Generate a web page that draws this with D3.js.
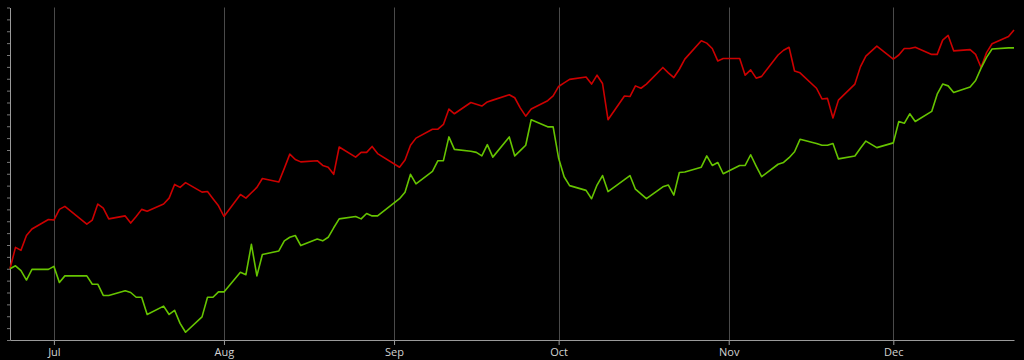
<!DOCTYPE html>
<html>
<head>
<meta charset="utf-8">
<script src="https://cdn.jsdelivr.net/npm/d3@7"></script>
<style>
    html, body { margin: 0; padding: 0; background: #000; }
    svg { display: block; }
    .axis text { fill: #d2d2d2; font-family: 'Open Sans', sans-serif; font-size: 11px; }
</style>
</head>
<body>
<svg class="chart"></svg>
<script>
// trading days, Jun 23 - Dec 23 2014
var tradeDates = [
    '2014-06-23', '2014-06-24', '2014-06-25', '2014-06-26', '2014-06-27', '2014-06-30',
    '2014-07-01', '2014-07-02', '2014-07-03', '2014-07-07', '2014-07-08', '2014-07-09', '2014-07-10', '2014-07-11',
    '2014-07-14', '2014-07-15', '2014-07-16', '2014-07-17', '2014-07-18', '2014-07-21', '2014-07-22', '2014-07-23',
    '2014-07-24', '2014-07-25', '2014-07-28', '2014-07-29', '2014-07-30', '2014-07-31',
    '2014-08-01', '2014-08-04', '2014-08-05', '2014-08-06', '2014-08-07', '2014-08-08', '2014-08-11', '2014-08-12',
    '2014-08-13', '2014-08-14', '2014-08-15', '2014-08-18', '2014-08-19', '2014-08-20', '2014-08-21', '2014-08-22',
    '2014-08-25', '2014-08-26', '2014-08-27', '2014-08-28', '2014-08-29',
    '2014-09-02', '2014-09-03', '2014-09-04', '2014-09-05', '2014-09-08', '2014-09-09', '2014-09-10', '2014-09-11',
    '2014-09-12', '2014-09-15', '2014-09-16', '2014-09-17', '2014-09-18', '2014-09-19', '2014-09-22', '2014-09-23',
    '2014-09-24', '2014-09-25', '2014-09-26', '2014-09-29', '2014-09-30',
    '2014-10-01', '2014-10-02', '2014-10-03', '2014-10-06', '2014-10-07', '2014-10-08', '2014-10-09', '2014-10-10',
    '2014-10-13', '2014-10-14', '2014-10-15', '2014-10-16', '2014-10-17', '2014-10-20', '2014-10-21', '2014-10-22',
    '2014-10-23', '2014-10-24', '2014-10-27', '2014-10-28', '2014-10-29', '2014-10-30', '2014-10-31',
    '2014-11-03', '2014-11-04', '2014-11-05', '2014-11-06', '2014-11-07', '2014-11-10', '2014-11-11', '2014-11-12',
    '2014-11-13', '2014-11-14', '2014-11-17', '2014-11-18', '2014-11-19', '2014-11-20', '2014-11-21', '2014-11-24',
    '2014-11-25', '2014-11-26', '2014-11-28',
    '2014-12-01', '2014-12-02', '2014-12-03', '2014-12-04', '2014-12-05', '2014-12-08', '2014-12-09', '2014-12-10',
    '2014-12-11', '2014-12-12', '2014-12-15', '2014-12-16', '2014-12-17', '2014-12-18', '2014-12-19', '2014-12-22',
    '2014-12-23'
];

// % change since first day
var redValues = [
    0, 3.6, 3.1, 5.6, 6.7, 8.3,
    8.2, 10.0, 10.5, 7.5, 8.2, 10.9, 10.2, 8.4, 8.9, 7.7, 8.8, 10.0, 9.7, 10.9, 11.9, 14.2, 13.7, 14.5, 12.9, 13.0, 11.8, 10.6,
    8.8, 12.5, 11.9, 12.8, 13.7, 15.2, 14.6, 16.9, 19.3, 18.4, 18.0, 18.2, 17.4, 17.1, 15.9, 20.5, 18.8, 19.6, 19.6, 20.6, 19.4,
    17.1, 18.3, 20.8, 22.0, 23.5, 23.5, 24.3, 26.9, 26.1, 28.0, 27.7, 27.4, 28.1, 28.4, 29.3, 28.8, 27.1, 25.7, 26.9, 28.3, 29.1,
    30.7, 31.3, 31.9, 32.3, 31.1, 32.6, 31.2, 25.1, 29.1, 29.0, 30.8, 30.4, 31.1, 33.9, 33.0, 32.2, 33.6, 35.3, 38.4, 38.0, 37.1, 35.0, 35.4,
    35.4, 32.6, 33.5, 32.1, 32.4, 36.0, 36.8, 37.3, 33.3, 33.0, 30.4, 28.6, 28.7, 25.4, 28.4, 31.1, 34.0, 35.8, 37.5,
    35.3, 36.0, 37.1, 37.1, 37.3, 36.1, 36.1, 38.5, 39.3, 36.7, 36.9, 36.1, 33.9, 36.4, 37.9, 39.1, 40.2
];

var greenValues = [
    0, 0.5, -0.3, -1.9, -0.1, -0.1,
    0.4, -2.3, -1.2, -1.2, -2.6, -2.6, -4.5, -4.5, -3.7, -4.0, -4.8, -4.8, -7.7, -6.3, -7.7, -7.0, -9.2, -10.7, -8.1, -4.8, -4.8, -3.9,
    -3.9, -0.6, -1.0, 4.1, -1.2, 2.4, 3.0, 4.7, 5.3, 5.6, 3.9, 5.0, 4.7, 5.3, 6.9, 8.4, 8.8, 8.4, 9.3, 8.9, 8.9,
    11.8, 12.9, 15.9, 14.3, 16.4, 18.2, 18.2, 22.2, 20.1, 19.8, 19.6, 19.0, 20.9, 18.8, 22.2, 19.0, 19.9, 20.8, 25.1, 23.9, 23.9,
    18.6, 15.5, 14.0, 13.2, 11.8, 14.1, 15.7, 13.0, 15.0, 15.7, 13.4, 12.6, 11.8, 13.8, 14.1, 12.4, 16.2, 16.3, 17.1, 19.0, 17.4, 17.9, 16.0,
    17.4, 17.4, 19.2, 17.3, 15.5, 17.6, 17.9, 18.7, 19.7, 21.8, 21.1, 20.8, 20.8, 21.1, 18.5, 19.0, 20.3, 21.5, 20.4,
    21.2, 24.8, 24.5, 26.1, 24.8, 26.5, 29.4, 31.1, 30.8, 29.7, 30.6, 31.7, 33.8, 35.6, 37.0, 37.2, 37.2
];

var monthTicks = ['2014-07-01', '2014-08-01', '2014-09-01', '2014-10-01', '2014-11-01', '2014-12-01'];
var dateRange = ['2014-06-23', '2014-12-23'];
var valueRange = [-12, 44];

drawChart('chart');

function drawChart(areaID) {
    var parseTime = d3.timeParse('%Y-%m-%d');

    var margin = { top: 7.5, right: 10, bottom: 20, left: 10 },
        width = 1024 - margin.left - margin.right,
        height = 360 - margin.top - margin.bottom;

    var series = [
        { name: 'red', color: '#cc0000', values: redValues },
        { name: 'green', color: '#66c400', values: greenValues }
    ].map(s => {
        return {
            name: s.name,
            color: s.color,
            points: tradeDates.map((d, i) => ({ date: parseTime(d), value: s.values[i] }))
        };
    });

    var x = d3.scaleTime()
        .domain(dateRange.map(parseTime))
        .range([0, width]);

    var y = d3.scaleLinear()
        .domain(valueRange)
        .range([height, 0]);

    var svg = d3.select('.' + areaID)
        .attr('width', width + margin.left + margin.right)
        .attr('height', height + margin.top + margin.bottom);

    svg.append('rect')
        .attr('width', width + margin.left + margin.right)
        .attr('height', height + margin.top + margin.bottom)
        .attr('fill', '#000');

    var chart = svg.append('g')
        .attr('transform', 'translate(' + margin.left + ',' + margin.top + ')');

    var months = monthTicks.map(parseTime);

    // month gridlines
    chart.append('g')
        .selectAll('line')
        .data(months)
        .enter()
        .append('line')
        .attr('x1', d => Math.round(x(d)) + 0.5)
        .attr('x2', d => Math.round(x(d)) + 0.5)
        .attr('y1', 0)
        .attr('y2', height)
        .attr('stroke', '#4a4a4a')
        .attr('stroke-width', 1);

    // x axis
    var xAxis = d3.axisBottom(x)
        .tickValues(months)
        .tickFormat(d3.timeFormat('%b'))
        .tickSize(5)
        .tickSizeOuter(0)
        .tickPadding(3);

    var gx = chart.append('g')
        .attr('class', 'x axis')
        .attr('transform', 'translate(0,' + height + ')')
        .call(xAxis);
    gx.select('.domain').attr('stroke', '#9a9a9a');
    gx.selectAll('.tick line').attr('stroke', '#9a9a9a');

    // y axis, ticks only
    var yAxis = d3.axisLeft(y)
        .tickValues(d3.range(valueRange[0], valueRange[1] + 1, 2))
        .tickFormat('')
        .tickSize(3)
        .tickSizeOuter(0);

    var gy = chart.append('g')
        .attr('class', 'y axis')
        .call(yAxis);
    gy.select('.domain').attr('stroke', '#9a9a9a');
    gy.selectAll('.tick line').attr('stroke', '#7a7a7a');

    var valueline = d3.line()
        .x(d => x(d.date))
        .y(d => y(d.value));

    // Draw lines
    for (var s of series) {
        chart.append('path')
            .datum(s.points)
            .attr('d', valueline)
            .attr('fill', 'none')
            .attr('stroke', s.color)
            .attr('stroke-width', 1.6)
            .attr('stroke-linejoin', 'round');
    }
}
</script>
</body>
</html>
